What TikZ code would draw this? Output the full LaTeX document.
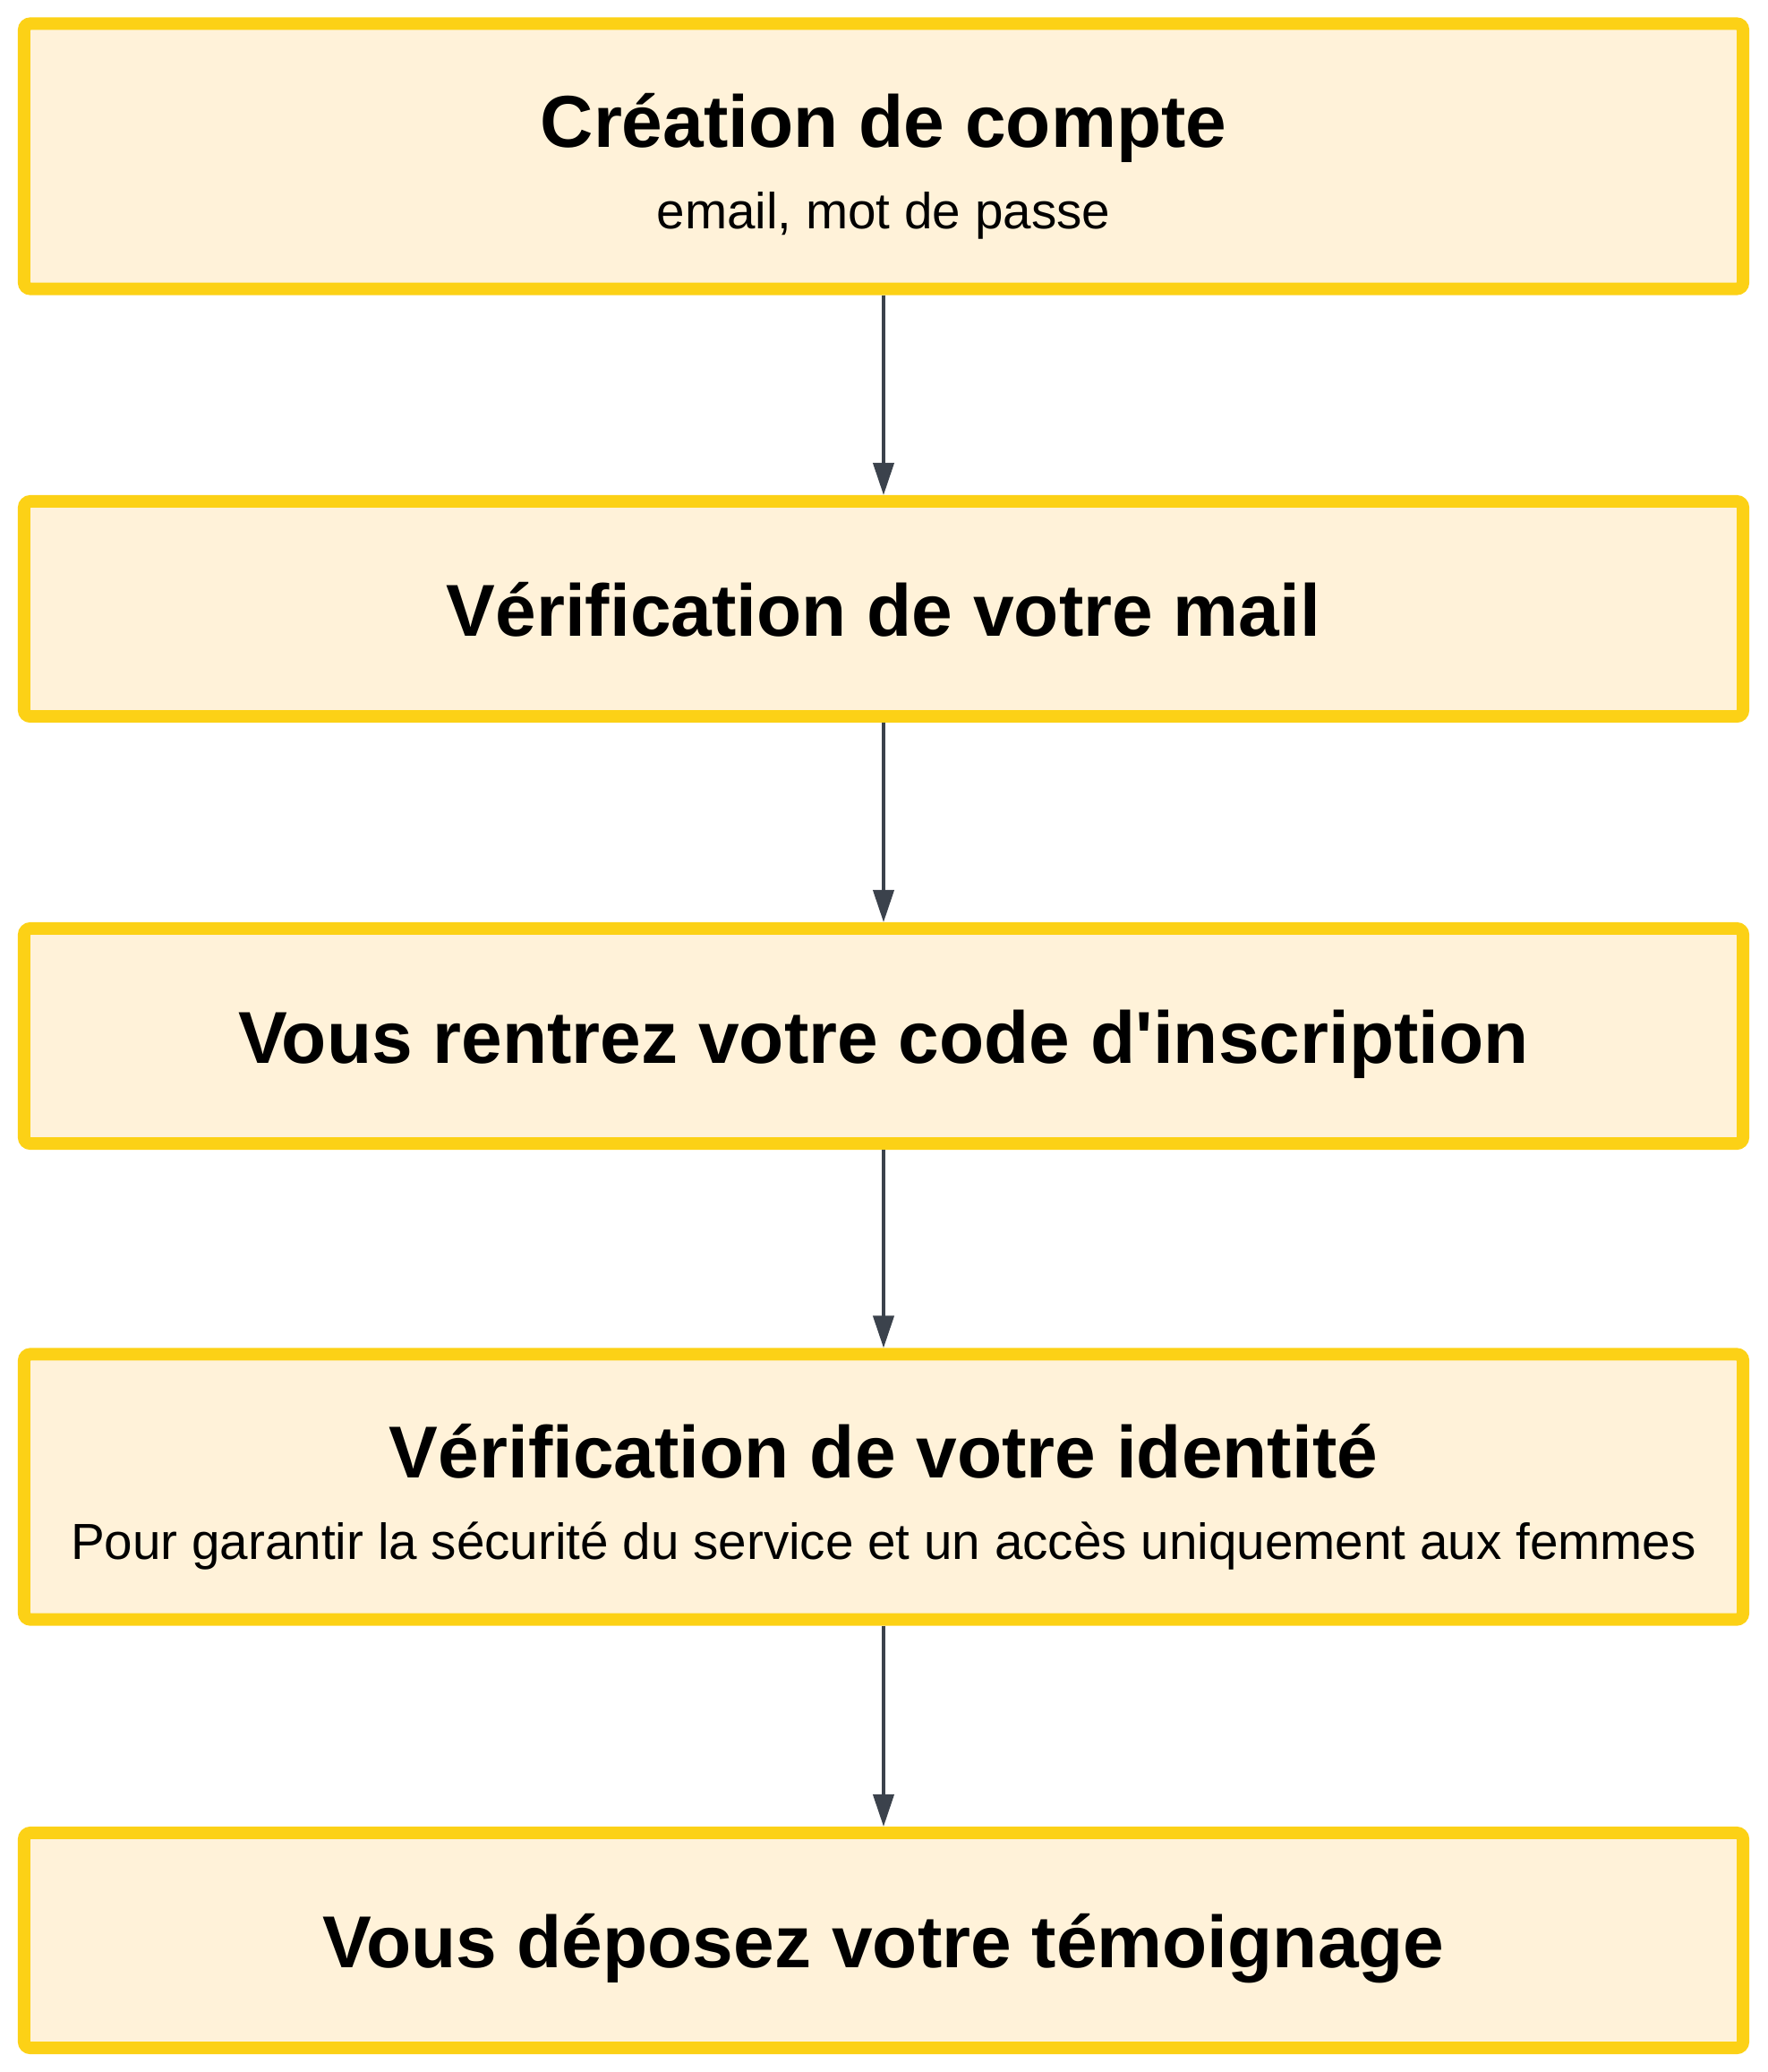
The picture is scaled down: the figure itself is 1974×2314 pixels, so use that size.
\documentclass[tikz,border=0pt]{standalone}
\usepackage{fontspec}
\setmainfont{Liberation Sans}
\usetikzlibrary{arrows.meta}

\definecolor{boxfill}{HTML}{FFF2D9}
\definecolor{boxline}{HTML}{FCD116}
\definecolor{arrowgray}{HTML}{3B424C}

\newcommand{\boxtitle}[1]{{\fontsize{23.35}{28}\selectfont\bfseries #1}}
\newcommand{\boxhead}[1]{\rule{0pt}{0.83cm}\smash{\boxtitle{#1}}}
\newcommand{\boxnote}[1]{\rule[-0.12cm]{0pt}{0.54cm}\smash{\fontsize{16.1}{19}\selectfont #1}}

\tikzset{
  stepbox/.style={draw=boxline, fill=boxfill, line width=3.98pt, rounded corners=2pt,
    minimum width=19.19cm, align=center, inner sep=0pt},
  onebox/.style={stepbox, minimum height=2.4cm, text height=0.8cm, text depth=0.2cm},
  tallbox/.style={stepbox, minimum height=2.96cm},
  flow/.style={draw=arrowgray, line width=1.15pt, -{Triangle[length=0.36cm,width=0.23cm]}}
}

\begin{document}
\begin{tikzpicture}[x=0.01cm, y=-0.01cm]
\useasboundingbox (0,0) rectangle (1974,2314);
\node[tallbox] (cpt) at (987,174.5) {\boxhead{Création de compte}\\[14pt]\boxnote{email, mot de passe}};
\node[onebox] (mail) at (987,680) {\boxtitle{Vérification de votre mail}};
\node[onebox] (code) at (987,1157) {\boxtitle{Vous rentrez votre code d\textquotesingle inscription}};
\node[tallbox] (id) at (987,1660.5) {\boxhead{Vérification de votre identité}\\[14pt]\boxnote{Pour garantir la sécurité du service et un accès uniquement aux femmes}};
\node[onebox] (tem) at (987,2167) {\boxtitle{Vous déposez votre témoignage}};
\foreach \a/\b in {cpt/mail, mail/code, code/id, id/tem}
    \draw[flow] (\a) -- (\b);
\end{tikzpicture}
\end{document}
